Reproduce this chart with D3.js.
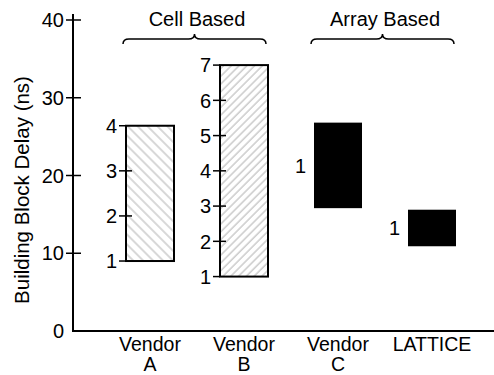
<!DOCTYPE html>
<html>
<head>
<meta charset="utf-8">
<script src="https://cdnjs.cloudflare.com/ajax/libs/d3/7.8.5/d3.min.js"></script>
<style>
  body { margin: 0; background: #fff; }
  text { font-family: "Liberation Sans", Arial, Helvetica, sans-serif; fill: #000; }
</style>
</head>
<body>
<div class="chart"></div>
<script>
"use strict";

// chart data
var vendors = ["Vendor A", "Vendor B", "Vendor C", "LATTICE"];
var vendorLines = [["Vendor", "A"], ["Vendor", "B"], ["Vendor", "C"], ["LATTICE"]];
var delayLow = [9.0, 7.0, 15.8, 10.9];
var delayHigh = [26.4, 34.2, 26.8, 15.6];
var levels = [4, 7, 1, 1];
var groupNames = ["Cell Based", "Array Based"];
var groupMembers = [["Vendor A", "Vendor B"], ["Vendor C", "LATTICE"]];
var yTicks = [0, 10, 20, 30, 40];

var width = 494,
    height = 375,
    barW = 48,
    fontSize = "20px";

var svg = d3.select(".chart")
          .append("svg")
          .attr("width", width)
          .attr("height", height);

var y = d3.scaleLinear().domain([0, 40]).range([331, 20]);
var x = d3.scalePoint().domain(vendors).range([103, 479]).padding(0.5);

var fillFor = {
  "Vendor A": "url(#hatchA)",
  "Vendor B": "url(#hatchB)",
  "Vendor C": "#000",
  "LATTICE": "#000"
};

// hatch patterns
var defs = svg.append("defs");
defs.append("pattern")
    .attr("id", "hatchA")
    .attr("patternUnits", "userSpaceOnUse")
    .attr("width", 7).attr("height", 7)
    .attr("patternTransform", "rotate(-45)")
  .append("line")
    .attr("x1", 1).attr("y1", 0).attr("x2", 1).attr("y2", 7)
    .style("stroke", "#7a7a7a")
    .style("stroke-width", 0.6);

defs.append("pattern")
    .attr("id", "hatchB")
    .attr("patternUnits", "userSpaceOnUse")
    .attr("width", 5.5).attr("height", 5.5)
    .attr("patternTransform", "rotate(45)")
  .append("line")
    .attr("x1", 1).attr("y1", 0).attr("x2", 1).attr("y2", 5.5)
    .style("stroke", "#7a7a7a")
    .style("stroke-width", 0.6);

// y axis with cross ticks
svg.append("line")
    .attr("x1", 73).attr("x2", 73)
    .attr("y1", y(40) - 6).attr("y2", y(0))
    .style("stroke", "#000")
    .style("stroke-width", 2);

svg.append("line")
    .attr("x1", 72).attr("x2", width)
    .attr("y1", y(0)).attr("y2", y(0))
    .style("stroke", "#000")
    .style("stroke-width", 2);

var yt = svg.append("g")
    .selectAll("g")
    .data(yTicks)
    .enter().append("g")
      .attr("transform", function(d){ return "translate(73," + y(d) + ")"; });

yt.filter(function(d){ return d !== 0; })
  .append("line")
    .attr("x1", -7).attr("x2", 8)
    .style("stroke", "#000")
    .style("stroke-width", 1.5);

yt.append("text")
    .attr("x", -9)
    .attr("dy", "0.36em")
    .style("text-anchor", "end")
    .style("font-size", fontSize)
    .text(function(d){ return d; });

svg.append("text")
    .attr("transform", "translate(29,190) rotate(-90)")
    .style("text-anchor", "middle")
    .style("font-size", "20.5px")
    .text("Building Block Delay (ns)");

// bars
var bars = svg.append("g")
    .selectAll("g")
    .data(vendors)
    .enter().append("g");

bars.append("rect")
    .attr("x", function(d){ return x(d) - barW / 2; })
    .attr("y", function(d, i){ return y(delayHigh[i]); })
    .attr("width", barW)
    .attr("height", function(d, i){ return y(delayLow[i]) - y(delayHigh[i]); })
    .attr("fill", function(d){ return fillFor[d]; })
    .style("stroke", function(d, i){ return levels[i] > 1 ? "#000" : "none"; })
    .style("stroke-width", 2);

// level ticks along left edge of each bar
bars.each(function(d, i){
  var g = d3.select(this);
  var left = x(d) - barW / 2;
  var n = levels[i];
  if (n === 1) {
    g.append("text")
      .attr("x", left - 8)
      .attr("y", (y(delayLow[i]) + y(delayHigh[i])) / 2)
      .attr("dy", "0.36em")
      .style("text-anchor", "end")
      .style("font-size", fontSize)
      .text("1");
    return;
  }
  var lv = d3.scaleLinear().domain([1, n]).range([y(delayLow[i]), y(delayHigh[i])]);
  var steps = d3.range(1, n + 1);
  g.selectAll("line.lvl")
    .data(steps)
    .enter().append("line")
      .attr("class", "lvl")
      .attr("x1", left - 7).attr("x2", function(k){ return (k === 1 || k === n) ? left : left + 6; })
      .attr("y1", function(k){ return lv(k); })
      .attr("y2", function(k){ return lv(k); })
      .style("stroke", "#000")
      .style("stroke-width", 1.5);
  g.selectAll("text.lvl")
    .data(steps)
    .enter().append("text")
      .attr("class", "lvl")
      .attr("x", left - 9)
      .attr("y", function(k){ return lv(k); })
      .attr("dy", "0.36em")
      .style("text-anchor", "end")
      .style("font-size", fontSize)
      .text(function(k){ return k; });
});

// category labels, one text per line
var cats = svg.append("g")
    .selectAll("g")
    .data(vendors)
    .enter().append("g");

cats.selectAll("text")
    .data(function(d, i){ return vendorLines[i].map(function(t){ return {v: d, t: t}; }); })
    .enter().append("text")
      .attr("x", function(o){ return x(o.v); })
      .attr("y", function(o, j){ return 351 + j * 20; })
      .style("text-anchor", "middle")
      .style("font-size", "19.5px")
      .text(function(o){ return o.t; });

// group braces
function brace(x1, x2, yb) {
  var xm = (x1 + x2) / 2;
  return "M" + x1 + "," + (yb + 5) +
         "Q" + x1 + "," + yb + " " + (x1 + 6) + "," + yb +
         "L" + (xm - 6) + "," + yb +
         "Q" + xm + "," + yb + " " + xm + "," + (yb - 5) +
         "Q" + xm + "," + yb + " " + (xm + 6) + "," + yb +
         "L" + (x2 - 6) + "," + yb +
         "Q" + x2 + "," + yb + " " + x2 + "," + (yb + 5);
}

var groups = svg.append("g")
    .selectAll("g")
    .data(groupNames)
    .enter().append("g");

groups.append("path")
    .attr("d", function(d, i){
      var m = groupMembers[i];
      return brace(x(m[0]) - barW / 2 - 3, x(m[m.length - 1]) + barW / 2 - 2, 39);
    })
    .attr("fill", "none")
    .style("stroke", "#000")
    .style("stroke-width", 1.5);

groups.append("text")
    .attr("x", function(d, i){
      var m = groupMembers[i];
      return (x(m[0]) + x(m[m.length - 1])) / 2;
    })
    .attr("y", 26)
    .style("text-anchor", "middle")
    .style("font-size", fontSize)
    .text(function(d){ return d; });
</script>
</body>
</html>
